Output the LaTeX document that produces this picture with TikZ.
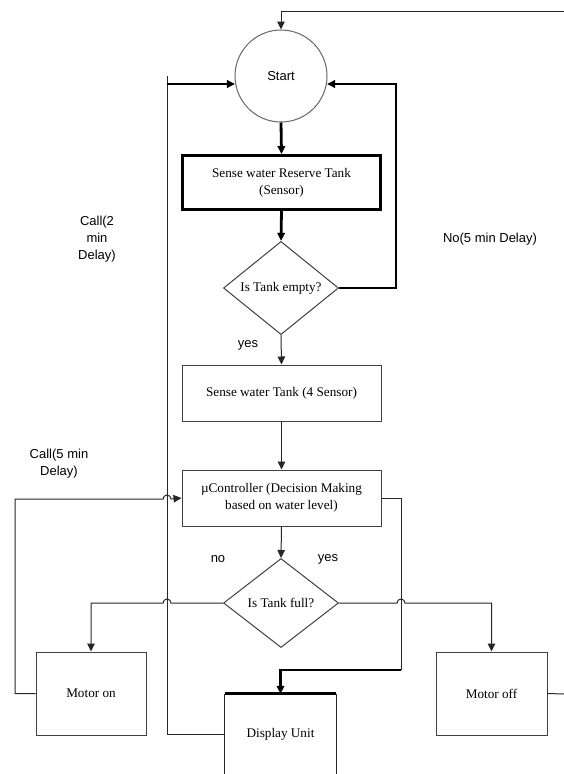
\documentclass[tikz,border=0pt]{standalone}
\usepackage{fontspec}
\setmainfont{Liberation Serif}
\setsansfont{Liberation Sans}
\usetikzlibrary{arrows.meta,shapes.geometric}
\begin{document}
\begin{tikzpicture}[x=1pt,y=-1pt,
  thinline/.style={line width=1pt,draw=black!85},
  thickline/.style={line width=2.8pt,draw=black},
  arr/.style={-{Triangle[length=8pt,width=7.5pt]}},
  boxtxt/.style={font=\fontsize{13.2}{17}\selectfont,align=center},
  lbl/.style={font=\sffamily\fontsize{13}{17}\selectfont,align=center,inner sep=0pt},
  procbox/.style={draw=black!75,line width=1pt,rectangle,inner sep=0pt,boxtxt},
  decbox/.style={draw=black!75,line width=1pt,diamond,inner sep=0pt,minimum width=115pt,minimum height=89pt,boxtxt}
]
\useasboundingbox (0,0) rectangle (564,774);
% nodes
\node[circle,draw=black!60,line width=1pt,minimum size=92pt,inner sep=0pt,font=\sffamily\fontsize{13}{17}\selectfont] (start) at (281,76) {Start};
\node[procbox,line width=2.8pt,draw=black,minimum width=198pt,minimum height=54pt] (reserve) at (281.5,182.5) {Sense water Reserve Tank\\(Sensor)};
\node[decbox] (dia1) at (281,288) {Is Tank empty?};
\node[procbox,minimum width=199pt,minimum height=56pt] (tank) at (281.5,393) {Sense water Tank (4 Sensor)};
\node[procbox,minimum width=199pt,minimum height=56pt] (mu) at (281.5,498) {µController (Decision Making\\based on water level)};
\node[decbox] (dia2) at (281,603) {Is Tank full?};
\node[procbox,minimum width=110pt,minimum height=83pt] (mon) at (91,693.5) {Motor on};
\node[procbox,minimum width=111pt,minimum height=83pt] (moff) at (491.5,693.5) {Motor off};
\node[boxtxt,inner sep=0pt,minimum width=111pt,minimum height=80pt] (disp) at (280.5,734) {Display Unit};
% display box outline (cut off at bottom)
\draw[thinline] (disp.north west) -- (disp.south west);
\draw[thinline] (disp.north east) -- (disp.south east);
\draw[thickline] (disp.north west) -- (disp.north east);
% labels
\node[lbl] (l1) at (97,239) {Call(2\\min\\Delay)};
\node[lbl] (l2) at (490,239) {No(5 min Delay)};
\node[lbl] (l3) at (248,345) {yes};
\node[lbl] (l4) at (59,464) {Call(5 min\\Delay)};
\node[lbl] (l5) at (218,559) {no};
\node[lbl] (l6) at (328,559) {yes};
% free ends
\coordinate (tr) at (564,11);
\coordinate (mr) at (564,694);
\coordinate (cl) at (167,76);
\coordinate (lt) at (167,84);
\coordinate (rt) at (396,84);
\coordinate (rr) at (401,670);
\coordinate (ll) at (15,499);
% connectors
\draw[thinline,arr] (tr) -| (start.north);
\draw[thickline,arr] (start.south) -- (reserve.north);
\draw[thickline,arr] (reserve.south) -- (dia1.north);
\draw[thickline,arr] (dia1.east) -| (rt) -- (rt -| start.352);
\draw[thinline] (cl) |- (disp.west);
\draw[thickline,arr] (lt) -- (lt -| start.188);
\draw[thinline,arr] (dia1.south) -- (tank.north);
\draw[thinline,arr] (tank.south) -- (mu.north);
\draw[thinline,arr] (mu.south) -- (dia2.north);
% left loop from Motor on back to controller
\draw[thinline,arr] (mon.west) -| (ll) -- (163,499) arc[start angle=180,end angle=0,radius=4pt] -- (mu.west);
% controller to display
\draw[thinline] (mu.east) -| (rr);
\draw[thickline,arr] (rr) -| (disp.north);
% Is tank full branches
\draw[thinline,arr] (dia2.west) -- (171,603) arc[start angle=0,end angle=180,radius=4pt] -| (mon.north);
\draw[thinline,arr] (dia2.east) -- (397,603) arc[start angle=180,end angle=0,radius=4pt] -| (moff.north);
\draw[thinline] (moff.east) -- (mr);
\end{tikzpicture}
\end{document}
